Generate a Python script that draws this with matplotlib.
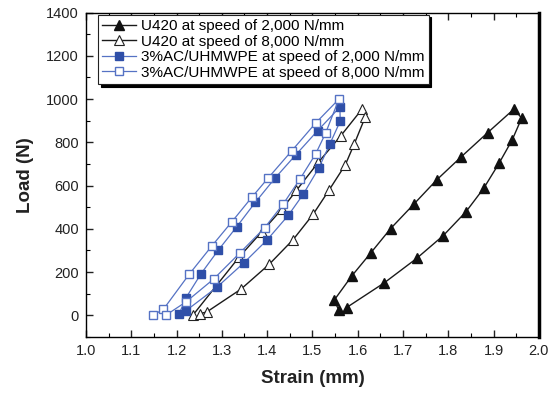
import numpy as np
import matplotlib
matplotlib.use("Agg")
import matplotlib.pyplot as plt
from matplotlib.ticker import MultipleLocator

plt.rcParams['font.family'] = ['Liberation Sans', 'DejaVu Sans']

# U420 at 2,000 N/mm (filled triangles)
u2k_strain = [1.5585, 1.548, 1.5865, 1.629, 1.6726, 1.7234, 1.7742, 1.829, 1.887, 1.945,
              1.962, 1.941, 1.912, 1.878, 1.839, 1.789, 1.730, 1.6585, 1.5755]
u2k_load = [23, 70, 181, 289, 401, 513, 626, 734, 845, 954,
            912, 811, 703, 587, 479, 369, 263, 150, 36]

# U420 at 8,000 N/mm (open triangles)
u8k_strain = [1.2369, 1.3384, 1.3885, 1.4338, 1.4647, 1.5132, 1.5625, 1.610,
              1.6168, 1.5927, 1.5726, 1.537, 1.5015, 1.4574, 1.4046, 1.3422, 1.2664, 1.2517]
u8k_load = [3, 270, 387, 494, 578, 708, 830, 955,
            918, 794, 696, 580, 467, 350, 236, 121, 15, 8]

# 3%AC/UHMWPE at 2,000 N/mm (filled squares)
ac2k_strain = [1.206, 1.2208, 1.2543, 1.292, 1.3327, 1.3737, 1.4172, 1.4636, 1.5115, 1.5607,
               1.5614, 1.5386, 1.5143, 1.4797, 1.4466, 1.3996, 1.3488, 1.2898, 1.2201]
ac2k_load = [8, 81, 193, 301, 409, 522, 634, 743, 854, 963,
             898, 793, 682, 560, 462, 348, 243, 131, 20]

# 3%AC/UHMWPE at 8,000 N/mm (open squares)
ac8k_strain = [1.147, 1.1707, 1.228, 1.278, 1.3223, 1.3658, 1.4018, 1.454, 1.507, 1.5585,
               1.529, 1.507, 1.473, 1.4356, 1.3945, 1.340, 1.282, 1.2208, 1.176]
ac8k_load = [0, 27, 190, 321, 433, 545, 634, 760, 889, 1000,
             842, 746, 632, 515, 405, 289, 168, 62, 0]

blue = '#2f4fa8'
blue_line = '#5572c4'

fig = plt.figure(figsize=(5.51, 3.95), dpi=100)
ax = fig.add_axes([0.156, 0.147, 0.822, 0.821])

ax.plot(u2k_strain, u2k_load, '-', color='#1a1a1a', lw=1.0, marker='^', ms=6.5,
        mfc='#111111', mec='#111111', label='U420 at speed of 2,000 N/mm')
ax.plot(u8k_strain, u8k_load, '-', color='#1a1a1a', lw=1.0, marker='^', ms=6.5,
        mfc='white', mec='#222222', mew=0.8, label='U420 at speed of 8,000 N/mm')
ax.plot(ac2k_strain, ac2k_load, '-', color=blue_line, lw=0.9, marker='s', ms=5.5,
        mfc=blue, mec=blue, label='3%AC/UHMWPE at speed of 2,000 N/mm')
ax.plot(ac8k_strain, ac8k_load, '-', color=blue_line, lw=0.9, marker='s', ms=5.5,
        mfc='white', mec=blue_line, mew=1.0, label='3%AC/UHMWPE at speed of 8,000 N/mm')

ax.set_xlim(1.0, 2.0)
ax.set_ylim(-100, 1400)
ax.set_xticks(np.arange(1.0, 2.01, 0.1))
ax.set_xticklabels([f"{v:.1f}" for v in np.arange(1.0, 2.01, 0.1)])
ax.xaxis.set_minor_locator(MultipleLocator(0.05))
ax.yaxis.set_major_locator(MultipleLocator(200))
ax.yaxis.set_minor_locator(MultipleLocator(100))
ax.tick_params(which='major', direction='out', length=5, width=1.0, labelsize=10.5,
               colors='#222222', pad=5)
ax.tick_params(which='minor', direction='out', length=3, width=0.8)
ax.tick_params(top=True, which='both', direction='in')
for s in ['left', 'bottom', 'top']:
    ax.spines[s].set_linewidth(1.0)
ax.spines['right'].set_linewidth(2.5)

ax.set_xlabel('Strain (mm)', fontsize=13.5, fontweight='bold', color='#222222', labelpad=9)
ax.set_ylabel('Load (N)', fontsize=13.5, fontweight='bold', color='#222222', labelpad=9)

leg = ax.legend(loc='upper left', bbox_to_anchor=(0.026, 0.994), borderaxespad=0,
                fontsize=11, frameon=True, fancybox=False,
                shadow={'color': 'black', 'alpha': 1.0},
                edgecolor='#222222', borderpad=0.3, labelspacing=0.1,
                handlelength=2.2, handletextpad=0.3)
leg.get_frame().set_linewidth(0.8)

fig.savefig('out.png', dpi=100)
